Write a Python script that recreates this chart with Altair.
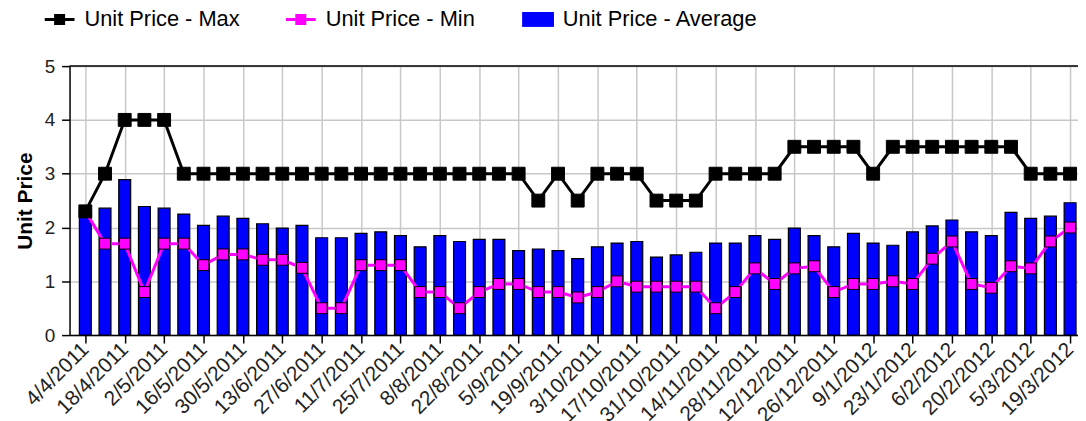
import altair as alt
import pandas as pd

weeks = [
    "4/4/2011", "11/4/2011", "18/4/2011", "25/4/2011", "2/5/2011", "9/5/2011",
    "16/5/2011", "23/5/2011", "30/5/2011", "6/6/2011", "13/6/2011", "20/6/2011",
    "27/6/2011", "4/7/2011", "11/7/2011", "18/7/2011", "25/7/2011", "1/8/2011",
    "8/8/2011", "15/8/2011", "22/8/2011", "29/8/2011", "5/9/2011", "12/9/2011",
    "19/9/2011", "26/9/2011", "3/10/2011", "10/10/2011", "17/10/2011", "24/10/2011",
    "31/10/2011", "7/11/2011", "14/11/2011", "21/11/2011", "28/11/2011", "5/12/2011",
    "12/12/2011", "19/12/2011", "26/12/2011", "2/1/2012", "9/1/2012", "16/1/2012",
    "23/1/2012", "30/1/2012", "6/2/2012", "13/2/2012", "20/2/2012", "27/2/2012",
    "5/3/2012", "12/3/2012", "19/3/2012",
]

max_price = [
    2.3, 3, 4, 4, 4, 3, 3, 3, 3, 3, 3, 3, 3, 3, 3, 3, 3, 3, 3, 3, 3, 3, 3,
    2.5, 3, 2.5, 3, 3, 3, 2.5, 2.5, 2.5, 3, 3, 3, 3, 3.5, 3.5, 3.5, 3.5, 3,
    3.5, 3.5, 3.5, 3.5, 3.5, 3.5, 3.5, 3, 3, 3,
]

min_price = [
    2.3, 1.7, 1.7, 0.8, 1.7, 1.7, 1.3, 1.5, 1.5, 1.4, 1.4, 1.25, 0.5, 0.5, 1.3,
    1.3, 1.3, 0.8, 0.8, 0.5, 0.8, 0.95, 0.95, 0.8, 0.8, 0.7, 0.8, 1.0, 0.9, 0.9,
    0.9, 0.9, 0.5, 0.8, 1.24, 0.95, 1.24, 1.28, 0.8, 0.95, 0.95, 1.0, 0.95, 1.42,
    1.74, 0.95, 0.88, 1.28, 1.24, 1.74, 2.0,
]

avg_price = [
    2.3, 2.36, 2.89, 2.39, 2.36, 2.25, 2.04, 2.21, 2.17, 2.07, 1.99, 2.04, 1.81,
    1.81, 1.89, 1.92, 1.85, 1.64, 1.85, 1.74, 1.78, 1.78, 1.57, 1.60, 1.57, 1.42,
    1.64, 1.71, 1.74, 1.45, 1.49, 1.54, 1.71, 1.71, 1.85, 1.78, 1.99, 1.85, 1.64,
    1.89, 1.71, 1.67, 1.92, 2.03, 2.14, 1.92, 1.85, 2.28, 2.17, 2.21, 2.46,
]

series_names = ["Unit Price - Max", "Unit Price - Min", "Unit Price - Average"]
series_colors = ["#000000", "#ff00ff", "#0000ff"]
line_square_symbol = "M-1,-0.1H1V0.1H-1Z M-0.37,-0.37H0.37V0.37H-0.37Z"
box_symbol = "M-1.07,-0.5H1.07V0.5H-1.07Z"
series_symbols = [line_square_symbol, line_square_symbol, box_symbol]
y_ticks = [0, 1, 2, 3, 4, 5]
y_top = [5]

FONT = "Liberation Sans"

idx = list(range(len(weeks)))
frames = []
for name, vals in zip(series_names, [max_price, min_price, avg_price]):
    frames.append(pd.DataFrame({"idx": idx, "week": weeks, "series": name, "value": vals}))
long_df = pd.concat(frames, ignore_index=True)

label_expr = "[" + ",".join("'" + w + "'" for w in weeks) + "][datum.value]"

x_enc = alt.X(
    "idx:Q",
    scale=alt.Scale(domain=[-0.549, 50.15], nice=False, zero=False),
    axis=alt.Axis(
        values=list(range(0, len(weeks), 2)),
        labelExpr=label_expr,
        title=None,
        labelAngle=-45,
        labelAlign="right",
        labelBaseline="middle",
        labelFontSize=21,
        labelFont=FONT,
        labelColor="#222222",
        labelPadding=3,
        labelOverlap=False,
        labelFlush=False,
        labelBound=False,
        tickSize=8,
        tickColor="black",
        tickWidth=1.5,
        domainColor="black",
        domainWidth=1.5,
        gridColor="#c8c8c8",
        gridWidth=1.5,
    ),
)

y_enc = alt.Y(
    "value:Q",
    scale=alt.Scale(domain=[0, 5], nice=False, zero=True),
    axis=alt.Axis(
        values=y_ticks,
        format="d",
        title="Unit Price",
        titleFont=FONT,
        titleFontSize=21,
        titleFontWeight="bold",
        titleColor="black",
        titlePadding=9,
        labelFontSize=19,
        labelFont=FONT,
        labelColor="#222222",
        labelPadding=7,
        tickSize=8,
        tickColor="black",
        tickWidth=1.5,
        domainColor="black",
        domainWidth=1.5,
        gridColor="#c8c8c8",
        gridWidth=1.5,
    ),
)

legend = alt.Legend(
    title=None,
    orient="none",
    legendX=-25,
    legendY=-62,
    direction="horizontal",
    symbolSize=900,
    symbolStrokeWidth=0,
    symbolOpacity=1,
    labelFontSize=22,
    labelFont=FONT,
    labelColor="black",
    labelOffset=10,
    labelLimit=400,
    columnPadding=46,
    padding=0,
)

color_scale = alt.Scale(domain=series_names, range=series_colors)
color_plain = alt.Color("series:N", scale=color_scale)
color_leg = alt.Color("series:N", scale=color_scale, legend=legend)
shape_leg = alt.Shape(
    "series:N", scale=alt.Scale(domain=series_names, range=series_symbols), legend=legend
)

base = alt.Chart(long_df)

# legend carrier: draws nothing (no rows), only provides the merged legend
legend_layer = base.transform_filter(alt.datum.idx < 0).mark_point(
    filled=True, opacity=1, strokeWidth=0
).encode(x=x_enc, y=y_enc, color=color_leg, shape=shape_leg)

bars = base.transform_filter(alt.datum.series == "Unit Price - Average").mark_bar(
    size=12, stroke="black", strokeWidth=1.2, opacity=1
).encode(x=x_enc, y=y_enc, color=color_plain)

min_line = base.transform_filter(alt.datum.series == "Unit Price - Min").mark_line(
    strokeWidth=3
).encode(x=x_enc, y=y_enc, color=color_plain)

min_pts = base.transform_filter(alt.datum.series == "Unit Price - Min").mark_point(
    shape="square", filled=True, size=121, stroke="black", strokeWidth=1, opacity=1
).encode(x=x_enc, y=y_enc, color=color_plain)

max_line = base.transform_filter(alt.datum.series == "Unit Price - Max").mark_line(
    strokeWidth=3
).encode(x=x_enc, y=y_enc, color=color_plain)

max_pts = base.transform_filter(alt.datum.series == "Unit Price - Max").mark_point(
    shape="square", filled=True, size=169, stroke="black", strokeWidth=1, opacity=1
).encode(x=x_enc, y=y_enc, color=color_plain)

top_rule = alt.Chart(pd.DataFrame({"value": y_top})).mark_rule(
    color="black", strokeWidth=1.5
).encode(y=alt.Y("value:Q"))

chart = alt.layer(
    legend_layer, bars, min_line, min_pts, max_line, max_pts, top_rule
).properties(
    width=1016,
    height=271,
    autosize=alt.AutoSizeParams(type="none"),
    padding={"left": 62, "top": 57, "right": 0, "bottom": 85},
    background="white",
).configure_view(stroke=None)

chart.save("out.html", embed_options={"renderer": "svg", "actions": False})
